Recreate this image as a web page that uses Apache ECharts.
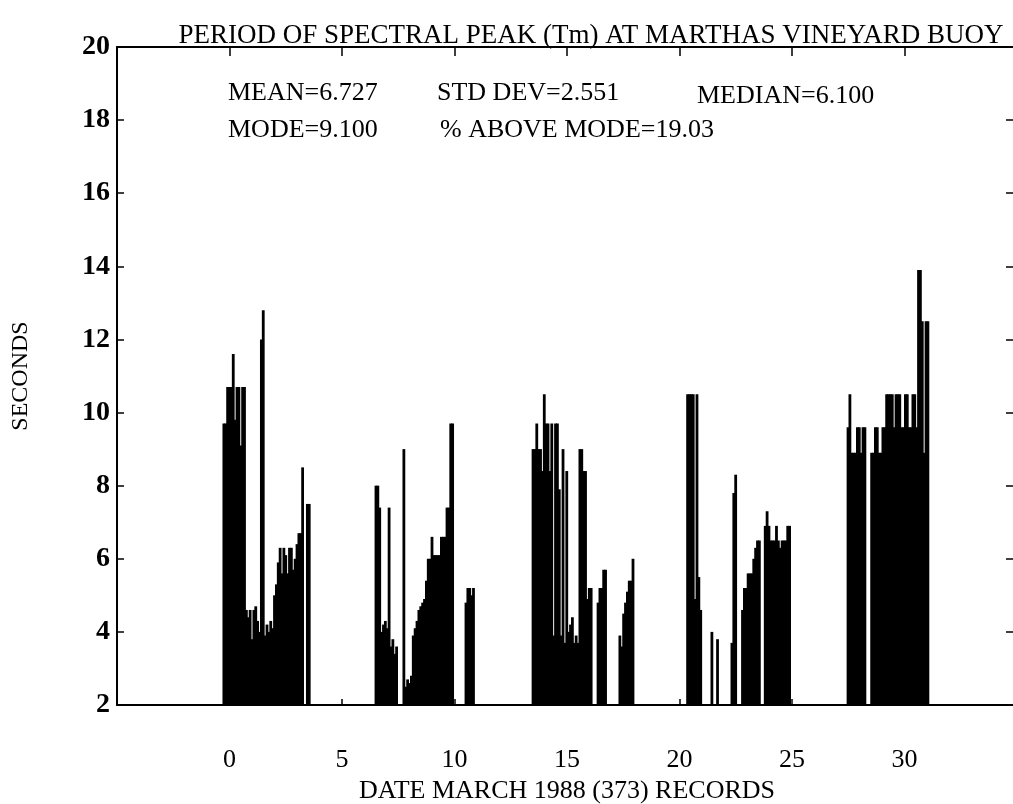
<!DOCTYPE html>
<html>
<head>
<meta charset="utf-8">
<script src="https://cdn.jsdelivr.net/npm/echarts@6/dist/echarts.min.js"></script>
<style>
  html, body { margin: 0; padding: 0; background: #fff; }
  #chart { width: 1013px; height: 804px; }
</style>
</head>
<body>
<div id="chart"></div>
<script>
// records every 2 hours (1/12 day); each run = consecutive records above the 2 s floor
var recordStep = 1 / 12;

var runStartDay = [-0.25, 3.46, 6.51, 7.75, 10.51, 13.49, 16.38, 17.35,
                   20.36, 21.44, 21.69, 22.33, 22.80, 23.81, 27.49, 28.54];

var run01 = [9.7, 9.7, 10.7, 10.7, 10.7, 11.6, 9.8, 10.7, 10.7, 9.1, 10.7, 10.7,
             4.6, 4.4, 4.6, 3.8, 4.6, 4.7, 4.3, 4.0, 12.0, 12.8,
             3.9, 4.2, 4.0, 4.3, 4.1,
             5.0, 5.3, 5.9, 6.3, 5.6, 6.3, 6.1, 5.6, 6.3, 6.3, 5.7, 6.0, 6.4, 6.7, 6.7, 8.5];
var run02 = [7.5, 7.5];
var run03 = [8.0, 8.0, 7.4, 4.0, 4.2, 4.3, 4.1, 7.4, 3.6, 3.8, 3.4, 3.6];
var run04 = [9.0, 2.5, 2.7, 2.6, 2.8, 3.9, 4.1, 4.3, 4.6, 4.7, 4.8, 4.9, 5.4, 6.0,
             6.0, 6.6, 6.1, 6.1, 6.1, 6.1, 6.6, 6.6, 6.6, 7.4, 7.4, 9.7, 9.7];
var run05 = [4.8, 5.2, 5.2, 5.0, 5.2];
var run06 = [9.0, 9.0, 9.7, 9.0, 9.0, 8.4, 10.5, 9.7, 9.7, 8.4, 9.7, 3.9, 9.7, 9.7,
             7.9, 3.9, 9.0, 3.7, 8.4, 4.0, 4.2, 4.4, 3.7, 3.9, 3.7, 9.0, 9.0, 8.4,
             8.4, 4.9, 5.2, 5.2];
var run07 = [4.8, 5.2, 5.2, 5.7, 5.7];
var run08 = [3.9, 3.6, 4.5, 4.8, 5.1, 5.4, 5.4, 6.0];
var run09 = [10.5, 10.5, 10.5, 10.5, 4.9, 10.5, 5.5, 4.6];
var run10 = [4.0];
var run11 = [3.8];
var run12 = [3.7, 7.8, 8.3];
var run13 = [4.6, 5.2, 5.2, 5.6, 5.6, 5.6, 6.0, 6.3, 6.5, 6.5];
var run14 = [6.9, 7.3, 6.9, 6.5, 6.5, 6.5, 6.9, 6.5, 6.3, 6.5, 6.5, 6.5, 6.9, 6.9];
var run15 = [9.6, 10.5, 8.9, 8.9, 8.9, 9.6, 9.6, 8.9, 9.6, 9.6];
var run16 = [8.9, 8.9, 9.6, 9.6, 8.9, 8.9, 9.6, 9.6, 10.5, 10.5, 10.5, 10.5, 9.6,
             10.5, 10.5, 10.5, 9.6, 9.6, 10.5, 10.5, 9.6, 9.6, 10.5, 10.5, 9.6,
             13.9, 13.9, 12.5, 8.9, 12.5, 12.5];

var runs = [run01, run02, run03, run04, run05, run06, run07, run08,
            run09, run10, run11, run12, run13, run14, run15, run16];

var xTicks = [0, 5, 10, 15, 20, 25, 30];

var statsRow1 = ['MEAN=6.727', 'STD DEV=2.551', 'MEDIAN=6.100'];
var statsRow2 = ['MODE=9.100', '% ABOVE MODE=19.03'];

var serif = "'Liberation Serif', 'DejaVu Serif', serif";

var points = [];
for (var r = 0; r < runs.length; r++) {
    for (var i = 0; i < runs[r].length; i++) {
        points.push([runStartDay[r] + i * recordStep, runs[r][i]]);
    }
}

var myChart = echarts.init(document.getElementById('chart'));

function statText(txt, x, y) {
    return {
        type: 'text', left: x, top: y,
        style: {text: txt, font: '26px ' + serif, fill: '#000'}
    };
}

var option = {
    animation: false,
    backgroundColor: '#fff',
    title: {
        text: 'PERIOD OF SPECTRAL PEAK (Tm) AT MARTHAS VINEYARD BUOY',
        left: 586, top: 17, textAlign: 'center',
        textStyle: {fontFamily: serif, fontSize: 27, fontWeight: 'normal', color: '#000'}
    },
    graphic: [
        statText(statsRow1[0], 228, 80),
        statText(statsRow1[1], 437, 80),
        statText(statsRow1[2], 697, 83),
        statText(statsRow2[0], 228, 117),
        statText(statsRow2[1], 440, 117)
    ],
    // plot box runs a few pixels past the right edge of the page, as in the scan
    grid: {left: 117, width: 900, top: 47, height: 658, outerBoundsMode: 'none'},
    xAxis: [{
        type: 'value', min: -5, max: 35, interval: 5, position: 'bottom',
        name: 'DATE MARCH 1988 (373) RECORDS',
        nameLocation: 'middle', nameGap: 73,
        nameTextStyle: {fontFamily: serif, fontSize: 26, color: '#000'},
        axisLine: {onZero: false, lineStyle: {color: '#000', width: 2}},
        axisTick: {inside: true, length: 6, lineStyle: {color: '#000', width: 1.5}},
        axisLabel: {
            margin: 42, fontFamily: serif, fontSize: 26, color: '#000',
            formatter: function (v) { return xTicks.indexOf(v) >= 0 ? String(v) : ''; }
        },
        splitLine: {show: false}
    }, {
        type: 'value', min: -5, max: 35, interval: 5, position: 'top',
        axisLine: {onZero: false, lineStyle: {color: '#000', width: 2}},
        axisTick: {inside: true, length: 9, lineStyle: {color: '#000', width: 1.5}},
        axisLabel: {show: false},
        splitLine: {show: false}
    }],
    yAxis: [{
        type: 'value', min: 2, max: 20, interval: 2, position: 'left',
        name: 'SECONDS', nameLocation: 'middle', nameGap: 84, nameRotate: 90,
        nameTextStyle: {fontFamily: serif, fontSize: 24, color: '#000'},
        axisLine: {onZero: false, lineStyle: {color: '#000', width: 2}},
        axisTick: {inside: true, length: 7, lineStyle: {color: '#000', width: 1.5}},
        axisLabel: {margin: 7, fontFamily: serif, fontSize: 28, fontWeight: 'bold', color: '#000'},
        splitLine: {show: false}
    }, {
        type: 'value', min: 2, max: 20, interval: 2, position: 'right',
        axisLine: {onZero: false, lineStyle: {color: '#000', width: 2}},
        axisTick: {inside: true, length: 11, lineStyle: {color: '#000', width: 1.5}},
        axisLabel: {show: false},
        splitLine: {show: false}
    }],
    series: [{
        type: 'bar',
        xAxisIndex: 0,
        yAxisIndex: 0,
        barWidth: 2.8,
        clip: true,
        itemStyle: {color: '#000'},
        data: points
    }]
};

myChart.setOption(option);
</script>
</body>
</html>
